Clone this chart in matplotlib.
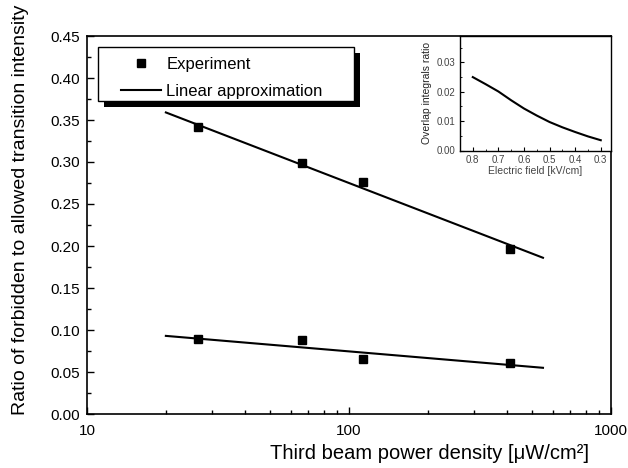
import matplotlib
matplotlib.use("Agg")
import matplotlib.pyplot as plt
from matplotlib.patches import Rectangle
from matplotlib.ticker import MultipleLocator, FormatStrFormatter

plt.rcParams['font.family'] = ['Liberation Sans', 'DejaVu Sans']

# measured points (third beam power density, uW/cm2)
power = [26.6, 66.0, 113.4, 411.6]
ratio_upper = [0.342, 0.299, 0.276, 0.197]
ratio_lower = [0.089, 0.088, 0.066, 0.061]

# linear approximation (straight in log x), end points
fit_power = [20, 550]
fit_upper = [0.359, 0.186]
fit_lower = [0.093, 0.055]

# inset: overlap integrals ratio vs electric field
field = [0.80, 0.75, 0.70, 0.65, 0.60, 0.55, 0.50, 0.45, 0.40, 0.35, 0.30]
overlap = [0.0250, 0.0226, 0.0201, 0.0171, 0.0143, 0.0119, 0.0097, 0.0079, 0.0063, 0.0048, 0.0035]

W, H = 628, 468
fig = plt.figure(figsize=(W / 100, H / 100), dpi=100)
ax = fig.add_axes([87 / W, 1 - 414 / H, (611 - 87) / W, (414 - 36) / H])

ax.plot(power, ratio_upper, 's', color='black', ms=5.5, label='Experiment')
ax.plot(fit_power, fit_upper, '-', color='black', lw=1.5, label='Linear approximation')
ax.plot(power, ratio_lower, 's', color='black', ms=5.5)
ax.plot(fit_power, fit_lower, '-', color='black', lw=1.5)

ax.set_xscale('log')
ax.set_xlim(10, 1000)
ax.set_ylim(0, 0.45)
ax.yaxis.set_major_locator(MultipleLocator(0.05))
ax.yaxis.set_minor_locator(MultipleLocator(0.025))
ax.yaxis.set_major_formatter(FormatStrFormatter('%.2f'))
ax.xaxis.set_major_formatter(FormatStrFormatter('%d'))
ax.tick_params(which='both', direction='in', top=False, right=False, labelsize=11)
ax.tick_params(which='major', length=5, width=1)
ax.tick_params(which='minor', length=3, width=1)
ax.tick_params(axis='y', pad=5)
ax.tick_params(axis='x', pad=7)
for s in ax.spines.values():
    s.set_linewidth(1.2)

ax.set_ylabel('Ratio of forbidden to allowed transition intensity', fontsize=14)
ax.yaxis.set_label_coords(-0.11, 0.54)
ax.set_xlabel('Third beam power density [μW/cm²]', fontsize=14.5)
ax.xaxis.set_label_coords(0.654, -0.079)

# legend with offset black shadow (frame drawn as patches)
ax.add_artist(Rectangle((104 / W, 1 - 106.7 / H), (354 - 98) / W, (100.7 - 46.7) / H,
                        transform=fig.transFigure, facecolor='black', edgecolor='none', zorder=4))
ax.add_artist(Rectangle((98 / W, 1 - 100.7 / H), (354 - 98) / W, (100.7 - 46.7) / H,
                        transform=fig.transFigure, facecolor='white', edgecolor='black', lw=1, zorder=4.5))
leg = ax.legend(loc='center', bbox_to_anchor=(222 / W, 1 - 78 / H), bbox_transform=fig.transFigure,
                frameon=False, fontsize=12, handlelength=2.4, handletextpad=0.3, labelspacing=0.75,
                borderpad=0.2)
leg.set_zorder(5)

# inset
ins = fig.add_axes([460 / W, 1 - 150.5 / H, (611 - 460) / W, (150.5 - 36) / H])
ins.plot(field, overlap, '-', color='black', lw=1.5)
ins.set_xlim(0.85, 0.26)
ins.set_ylim(0, 0.039)
ins.xaxis.set_major_locator(MultipleLocator(0.1))
ins.xaxis.set_minor_locator(MultipleLocator(0.05))
ins.yaxis.set_major_locator(MultipleLocator(0.01))
ins.yaxis.set_minor_locator(MultipleLocator(0.005))
ins.xaxis.set_major_formatter(FormatStrFormatter('%.1f'))
ins.yaxis.set_major_formatter(FormatStrFormatter('%.2f'))
ins.tick_params(which='both', direction='in', top=False, right=False, labelsize=7,
                labelcolor='#444444', pad=3)
ins.tick_params(which='major', length=3)
ins.tick_params(which='minor', length=1.5)
ins.set_ylabel('Overlap integrals ratio', fontsize=7.5, color='#222222')
ins.set_xlabel('Electric field [kV/cm]', fontsize=7.5, color='#444444', labelpad=1)
for s in ins.spines.values():
    s.set_linewidth(1.0)

fig.savefig('out.png', dpi=100)
